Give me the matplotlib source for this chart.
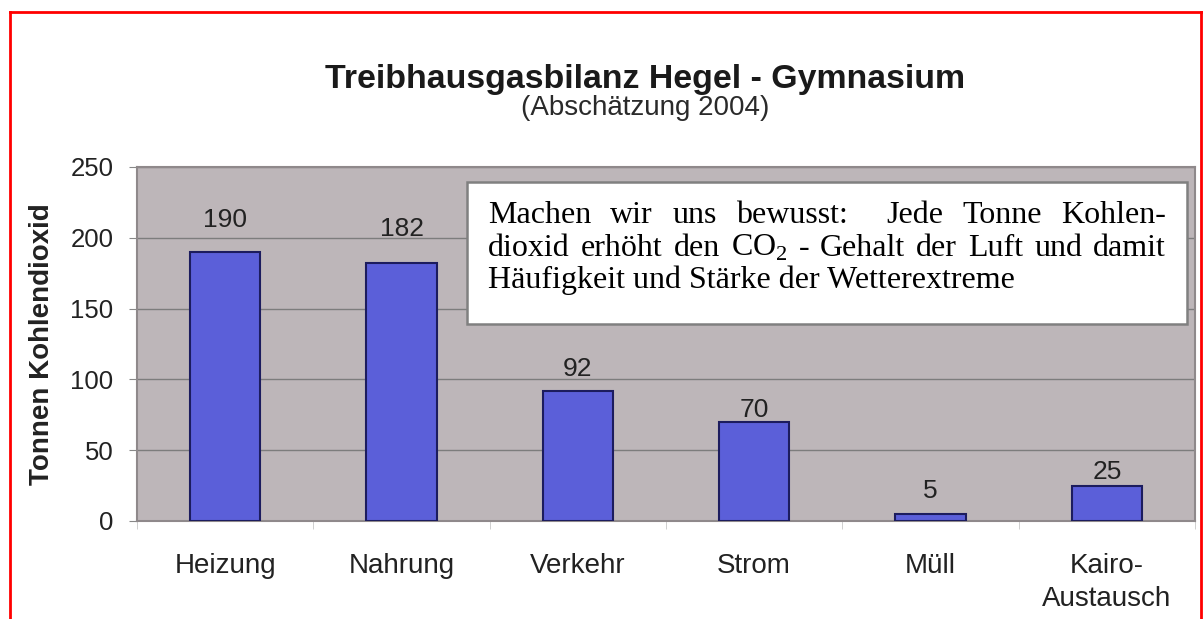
import matplotlib.pyplot as plt
from matplotlib.patches import Rectangle
from matplotlib.lines import Line2D

# Daten
categories = ["Heizung", "Nahrung", "Verkehr", "Strom", "Müll", "Kairo-\nAustausch"]
tonnes = [190, 182, 92, 70, 5, 25]
y_ticks = [0, 50, 100, 150, 200, 250]
# Abstand der Werte-Beschriftung über dem Balken (Pixel), wie im Original
label_gap_px = [25, 27, 15, 5, 16, 7]

line1 = ["Machen", "wir", "uns", "bewusst:", "Jede", "Tonne", "Kohlen-"]
gaps1 = [1, 1, 1, 2, 1, 1]
line2 = ["dioxid", "erhöht", "den", r"CO$_\mathrm{2}$", "-", "Gehalt", "der", "Luft", "und", "damit"]
line3 = "Häufigkeit und Stärke der Wetterextreme"

plt.rcParams['font.family'] = ['Liberation Sans', 'DejaVu Sans']
plt.rcParams['mathtext.fontset'] = 'custom'
plt.rcParams['mathtext.rm'] = 'Liberation Serif'

W, H = 1203, 619
fig = plt.figure(figsize=(W / 100, H / 100), dpi=100)


def fx(px):
    return px / W


def fy(py):
    return 1 - py / H


# ===================== Diagramm =====================
ax = fig.add_axes([fx(137), fy(521), fx(1195) - fx(137), fy(167) - fy(521)])
ax.set_facecolor('#bdb6b9')
xpos = list(range(len(categories)))
ax.bar(xpos, tonnes, width=0.4, color='#5b5fd9', edgecolor='#1c1c5e', linewidth=1.5, zorder=3)
ax.set_xlim(-0.5, len(categories) - 0.5)
ax.set_ylim(0, 250)
ax.set_yticks(y_ticks)
ax.yaxis.grid(True, color='#7d7d7d', lw=1)
ax.set_axisbelow(True)

ax.set_xticks(xpos, categories)
ax.set_xticks([i - 0.5 for i in range(len(categories) + 1)], minor=True)
ax.tick_params(axis='x', which='major', length=0, pad=23, labelsize=20, labelcolor='#222222')
ax.tick_params(axis='x', which='minor', length=6, color='#c8c8c8')
ax.tick_params(axis='y', length=6, color='#888888', pad=11, labelsize=18.5, labelcolor='#222222')
for lab in ax.get_xticklabels():
    lab.set_linespacing(1.35)
for s in ax.spines.values():
    s.set_color('#8f898b')
    s.set_linewidth(1.5)

ax.set_ylabel("Tonnen Kohlendioxid", fontsize=20, fontweight='bold', color='#222222')
ax.yaxis.label.set_va('center')
ax.yaxis.set_label_coords(-0.0898, 0.5)

for i, v in enumerate(tonnes):
    ax.annotate(str(v), (i, v), xytext=(0, label_gap_px[i] * 0.72), textcoords='offset points',
                ha='center', va='baseline', fontsize=19, color='#222222')

# ===================== Titel =====================
fig.text(fx(645), fy(88), "Treibhausgasbilanz Hegel - Gymnasium", ha='center', va='baseline',
         fontsize=24.4, fontweight='bold', color='#1a1a1a')
fig.text(fx(645), fy(115), "(Abschätzung 2004)", ha='center', va='baseline',
         fontsize=20, color='#2a2a2a')

# ===================== Textkasten (Blocksatz) =====================
fig.add_artist(Rectangle((fx(467), fy(324)), fx(1187) - fx(467), fy(182) - fy(324),
                         transform=fig.transFigure, facecolor='white', edgecolor='#808080',
                         lw=1.8, zorder=5))

serif = dict(fontsize=23, family='Liberation Serif', va='baseline', color='black', zorder=6)
renderer = fig.canvas.get_renderer()


def justify(words, weights, y, x0, x1):
    ts = [fig.text(fx(x0), fy(y), w, **serif) for w in words]
    widths = [t.get_window_extent(renderer).width for t in ts]
    gap = (x1 - x0 - sum(widths)) / sum(weights)
    x = x0
    for k, t in enumerate(ts):
        t.set_x(fx(x))
        x += widths[k]
        if k < len(weights):
            x += gap * weights[k]


justify(line1, gaps1, 223, 488, 1166)
justify(line2, [1] * (len(line2) - 1), 255.5, 488, 1166)
fig.text(fx(488), fy(288), line3, **serif)

# ===================== roter Rahmen =====================
for xs, ys in [([10, 10], [12, 619]), ([10, 1203], [12, 12]), ([1201, 1201], [12, 619])]:
    fig.add_artist(Line2D([fx(v) for v in xs], [fy(v) for v in ys], color='red', lw=2,
                          transform=fig.transFigure))

fig.savefig("out.png", dpi=100)
